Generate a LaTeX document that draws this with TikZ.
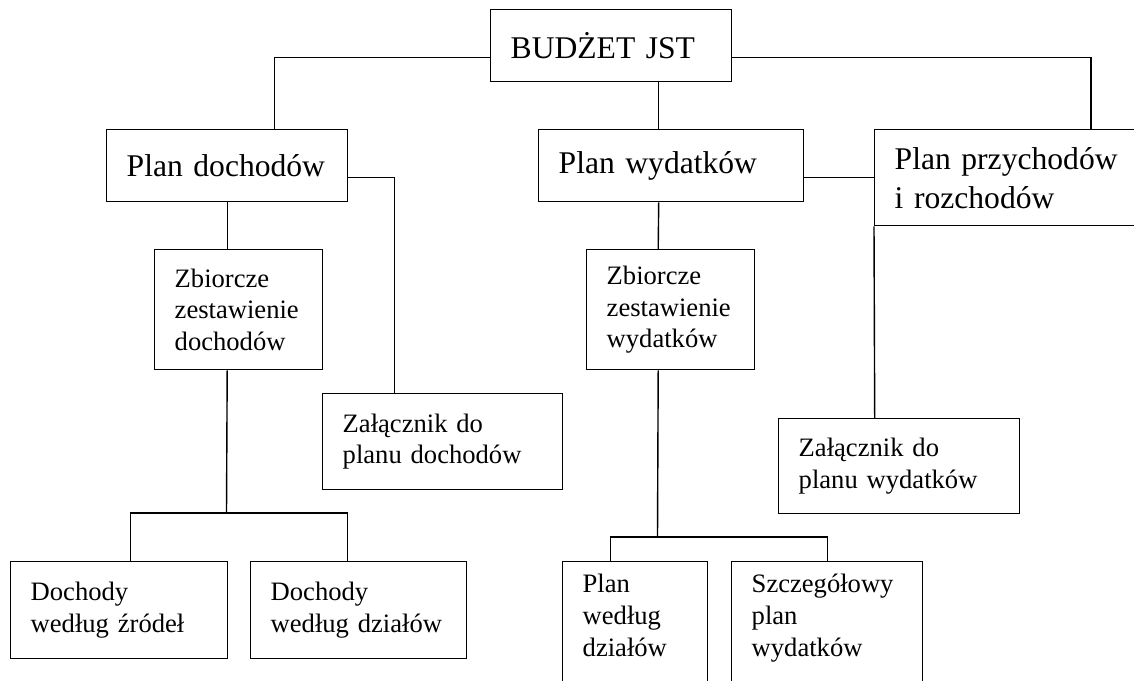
\documentclass[tikz,border=0pt]{standalone}
\usepackage{fontspec}
\setmainfont{Liberation Serif}
\usetikzlibrary{positioning}
\hyphenpenalty=10000

\begin{document}
\begin{tikzpicture}[x=0.5pt, y=-0.5pt, line width=0.7pt,
  blok/.style={draw, anchor=north west, align=left, inner xsep=10pt, inner ysep=0pt},
  duzy/.style={blok, font=\fontsize{15.8}{19.5}\selectfont},
  maly/.style={blok, font=\fontsize{13.3}{15.8}\selectfont}]
\clip (0,0) rectangle (1134,680);
% bloki
\node [duzy, text width=100.5pt, minimum height=36pt] (budzet) at (490,9) {BUDŻET JST};
\node [duzy, text width=100.5pt, minimum height=36pt] (dochody) at (106,129) {Plan dochodów};
\node [duzy, text width=112.5pt, minimum height=36pt] (wydatki) at (538,129) {Plan wydatków};
\node [duzy, text width=115.5pt, minimum height=48pt] (przych) at (874,129) {Plan przychodów\\i rozchodów};
\node [maly, text width=64pt, minimum height=60pt] (zbdoch) at (154,249) {Zbiorcze\\zestawienie\\dochodów};
\node [maly, text width=64pt, minimum height=60pt] (zbwyd) at (586,249) {Zbiorcze\\zestawienie\\wydatków};
\node [maly, text width=100pt, minimum height=48pt] (zaldoch) at (322,393) {Załącznik do\\planu dochodów};
\node [maly, text width=100.5pt, minimum height=47.5pt] (zalwyd) at (778,418) {Załącznik do\\planu wydatków};
\node [maly, text width=88.5pt, minimum height=48.5pt] (zrodla) at (10,561) {Dochody\\według źródeł};
\node [maly, text width=88pt, minimum height=48.5pt] (dzialy) at (250,561) {Dochody\\według działów};
\node [maly, text width=52.5pt, minimum height=65pt, text depth=43pt] (pldzial) at (562,561) {Plan\\według\\działów};
\node [maly, text width=75.5pt, minimum height=65pt, text depth=43pt] (szczeg) at (731,561) {Szczegółowy\\plan\\wydatków};
% linie
\draw ([yshift=-6pt]budzet.west) -| ([xshift=23.75pt]dochody.north);
\draw ([yshift=-6pt]budzet.east) -| ([xshift=108.5pt]przych.north west);
\draw ([xshift=23.75pt]budzet.south) -- ([xshift=-6.25pt]wydatki.north);
\draw ([xshift=-6.25pt]wydatki.south) -- ([xshift=-6.25pt]zbwyd.north);
\draw ([yshift=-6pt]wydatki.east) -- (przych.west);
\draw (przych.south west) -- ([xshift=-12.25pt]zalwyd.north);
\draw (dochody.south) -- ([xshift=-5.75pt]zbdoch.north);
\draw ([yshift=-6pt]dochody.east) -| ([xshift=-24pt]zaldoch.north);
% rozgalezienia
\coordinate (rd) at (226.5,513);
\draw ([xshift=-5.75pt]zbdoch.south) -- (rd);
\draw ([xshift=5.75pt]zrodla.north) |- (rd) -| ([xshift=-5.5pt]dzialy.north);
\coordinate (rw) at (657.5,537);
\draw ([xshift=-6.25pt]zbwyd.south) -- (rw);
\draw ([xshift=-12.25pt]pldzial.north) |- (rw) -| (szczeg.north);
\end{tikzpicture}
\end{document}
